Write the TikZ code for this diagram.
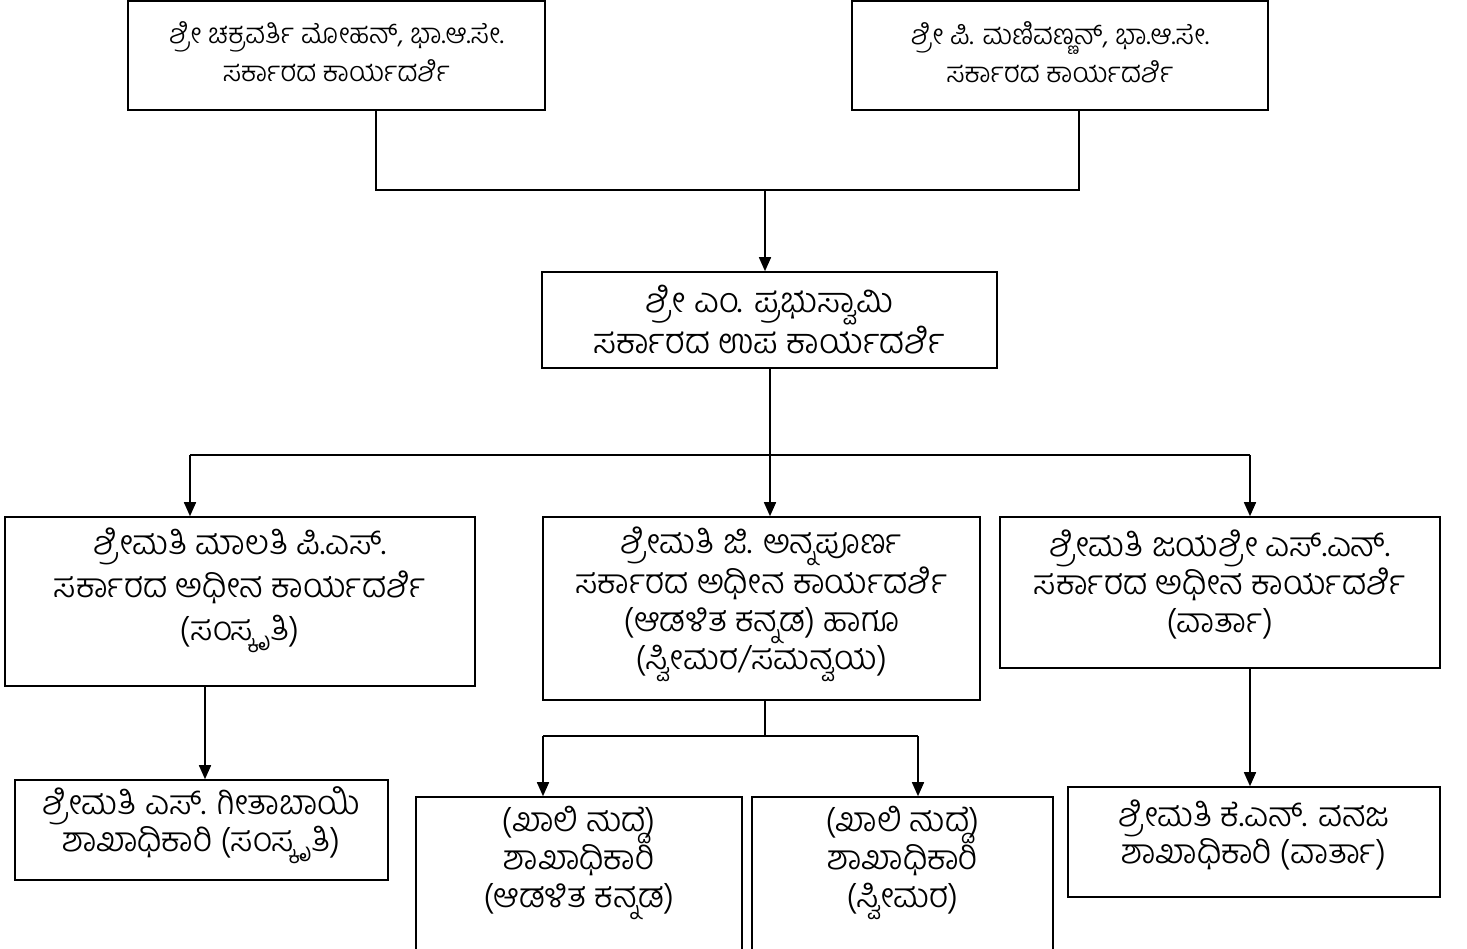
\documentclass[tikz,border=0pt]{standalone}
\usepackage{fontspec}
\newfontfamily\kn[Script=Kannada]{Hind Mysuru Light}
\usetikzlibrary{arrows.meta}
\begin{document}
\begin{tikzpicture}[x=1pt,y=-1pt,
  boxst/.style={draw, line width=1.6pt, inner sep=0pt},
  txt/.style={align=center, inner sep=0pt, font=\kn\fontsize{34}{38}\selectfont},
  toptxt/.style={txt, font=\kn\fontsize{28}{38}\selectfont},
  conn/.style={line width=1.6pt},
  arr/.style={line width=1.6pt, -{Triangle[length=14pt,width=12pt]}}]
\useasboundingbox (0,0) rectangle (1467,948);
% boxes
\node[boxst, minimum width=417, minimum height=109] (b1) at (336.5,55.5) {};
\node[toptxt] (t1) at (336.5,52) {ಶ್ರೀ ಚಕ್ರವರ್ತಿ ಮೋಹನ್, ಭಾ.ಆ.ಸೇ.\\ಸರ್ಕಾರದ ಕಾರ್ಯದರ್ಶಿ};
\node[boxst, minimum width=416, minimum height=109] (b2) at (1060,55.5) {};
\node[toptxt] (t2) at (1060,52) {ಶ್ರೀ ಪಿ. ಮಣಿವಣ್ಣನ್, ಭಾ.ಆ.ಸೇ.\\ಸರ್ಕಾರದ ಕಾರ್ಯದರ್ಶಿ};
\node[boxst, minimum width=455, minimum height=96] (b3) at (769.5,320) {};
\node[txt, font=\kn\fontsize{35}{38}\selectfont] (t3) at (769.5,320) {ಶ್ರೀ ಎಂ. ಪ್ರಭುಸ್ವಾಮಿ\\ಸರ್ಕಾರದ ಉಪ ಕಾರ್ಯದರ್ಶಿ};
\node[boxst, minimum width=470, minimum height=169] (b4) at (240,601.5) {};
\node[txt, font=\kn\fontsize{34}{43}\selectfont] (t4) at (240,590) {ಶ್ರೀಮತಿ ಮಾಲತಿ ಪಿ.ಎಸ್.\\ಸರ್ಕಾರದ ಅಧೀನ ಕಾರ್ಯದರ್ಶಿ\\(ಸಂಸ್ಕೃತಿ)};
\node[boxst, minimum width=437, minimum height=183] (b5) at (761.5,608.5) {};
\node[txt] (t5) at (761.5,604) {ಶ್ರೀಮತಿ ಜಿ. ಅನ್ನಪೂರ್ಣ\\ಸರ್ಕಾರದ ಅಧೀನ ಕಾರ್ಯದರ್ಶಿ\\(ಆಡಳಿತ ಕನ್ನಡ) ಹಾಗೂ\\(ಸ್ವೀಮರ/ಸಮನ್ವಯ)};
\node[boxst, minimum width=440, minimum height=151] (b6) at (1220,592.5) {};
\node[txt] (t6) at (1220,585) {ಶ್ರೀಮತಿ ಜಯಶ್ರೀ ಎಸ್.ಎನ್.\\ಸರ್ಕಾರದ ಅಧೀನ ಕಾರ್ಯದರ್ಶಿ\\(ವಾರ್ತಾ)};
\node[boxst, minimum width=373, minimum height=100] (b7) at (201.5,830) {};
\node[txt, font=\kn\fontsize{34}{35}\selectfont] (t7) at (201.5,825) {ಶ್ರೀಮತಿ ಎಸ್. ಗೀತಾಬಾಯಿ\\ಶಾಖಾಧಿಕಾರಿ (ಸಂಸ್ಕೃತಿ)};
\node[boxst, minimum width=326, minimum height=156] (b8) at (579,875) {};
\node[txt] (t8) at (579,863) {(ಖಾಲಿ ಹುದ್ದೆ)\\ಶಾಖಾಧಿಕಾರಿ\\(ಆಡಳಿತ ಕನ್ನಡ)};
\node[boxst, minimum width=301, minimum height=156] (b9) at (902.5,875) {};
\node[txt] (t9) at (902.5,863) {(ಖಾಲಿ ಹುದ್ದೆ)\\ಶಾಖಾಧಿಕಾರಿ\\(ಸ್ವೀಮರ)};
\node[boxst, minimum width=372, minimum height=110] (b10) at (1254,842) {};
\node[txt, font=\kn\fontsize{34}{35}\selectfont] (t10) at (1254,835) {ಶ್ರೀಮತಿ ಕೆ.ಎನ್. ವನಜ\\ಶಾಖಾಧಿಕಾರಿ (ವಾರ್ತಾ)};
% junction coordinates
\coordinate (jl) at (376,190);
\coordinate (jr) at (1079,190);
\coordinate (jm) at (765,190);
\coordinate (k) at (770,455);
\coordinate (kl) at (190,455);
\coordinate (kr) at (1250,455);
\coordinate (m) at (765,736);
\coordinate (ml) at (543,736);
\coordinate (mr) at (918,736);
\coordinate (p4) at (205,700);
\coordinate (p6) at (1250,700);
% connectors
\draw[conn] (b1.south -| jl) -- (jl) -- (jr) -- (b2.south -| jr);
\draw[arr] (jm) -- (b3.north -| jm);
\draw[conn] (b3.south -| k) -- (k);
\draw[conn] (kl) -- (kr);
\draw[arr] (kl) -- (b4.north -| kl);
\draw[arr] (k) -- (b5.north -| k);
\draw[arr] (kr) -- (b6.north -| kr);
\draw[arr] (b4.south -| p4) -- (b7.north -| p4);
\draw[conn] (b5.south -| m) -- (m);
\draw[conn] (ml) -- (mr);
\draw[arr] (ml) -- (b8.north -| ml);
\draw[arr] (mr) -- (b9.north -| mr);
\draw[arr] (b6.south -| p6) -- (b10.north -| p6);
\end{tikzpicture}
\end{document}
